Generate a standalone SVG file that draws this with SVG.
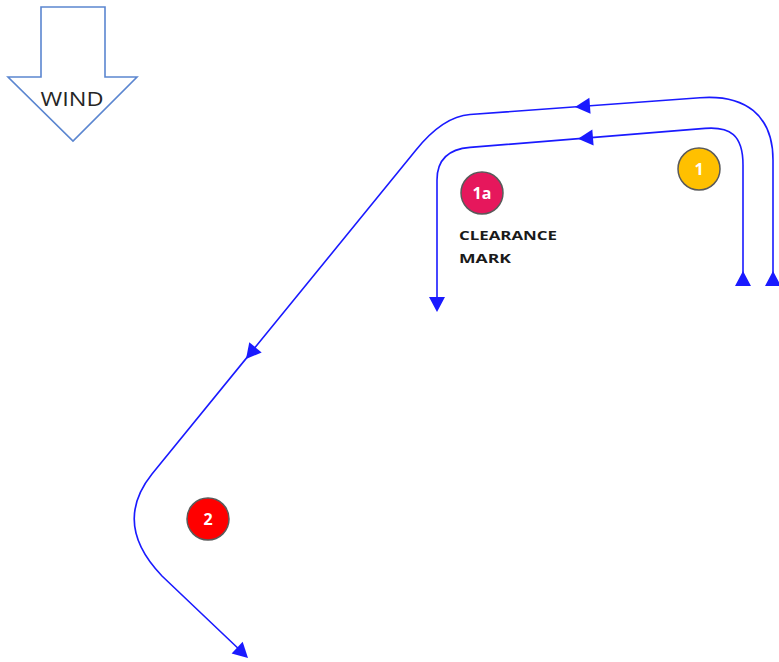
<svg xmlns="http://www.w3.org/2000/svg" width="779" height="662" viewBox="0 0 779 662">
<style>
.course{fill:none;stroke:#1a1aff;stroke-width:1.6;stroke-linejoin:round}
.ah{fill:#1a1aff}
.buoy{stroke:#5a5a5a;stroke-width:1.5}
.num{fill:#ffffff;font-family:"Open Sans","Liberation Sans",sans-serif;font-weight:700;font-size:16px;text-anchor:middle}
.lbl{fill:#1a1a1a;font-family:"Open Sans","Liberation Sans",sans-serif;font-weight:700;font-size:13px}
</style>
<defs>
<path id="ah" d="M0,0 L-15,-8 L-15,8 Z"/>
</defs>
<rect width="779" height="662" fill="#ffffff"/>
<g id="wind">
<polygon points="41,7 105,7 105,77 137,77 73,141 8,77 41,77" fill="#ffffff" stroke="#5b86d0" stroke-width="1.6"/>
<text x="72" y="106" font-family="'Open Sans','Liberation Sans',sans-serif" font-size="20" fill="#262626" text-anchor="middle" textLength="63" lengthAdjust="spacingAndGlyphs">WIND</text>
</g>
<g id="connectors">
<path class="course" d="M773,286 L773,160 C773,115 745,94.4 700,97.7 L470,114.5 Q443,116.5 416,150 L152,474 Q112,524 162,576 L243,653"/>
<path class="course" d="M743,286 L743,165 C743,135 730,126.4 705,128.4 L470,147.4 Q437,150 437,180 L437,305"/>
<use href="#ah" class="ah" transform="translate(773,271) rotate(-90)"/>
<use href="#ah" class="ah" transform="translate(743,271) rotate(-90)"/>
<use href="#ah" class="ah" transform="translate(575,106.9) rotate(175.8)"/>
<use href="#ah" class="ah" transform="translate(578,138.7) rotate(175.4)"/>
<use href="#ah" class="ah" transform="translate(246,359) rotate(129.2)"/>
<use href="#ah" class="ah" transform="translate(248,658) rotate(43.6)"/>
<use href="#ah" class="ah" transform="translate(437,312) rotate(90)"/>
</g>
<g id="mark1">
<circle class="buoy" cx="699" cy="169" r="21" fill="#ffc000"/>
<text class="num" x="699" y="175">1</text>
</g>
<g id="mark1a">
<circle class="buoy" cx="482" cy="193" r="21" fill="#e6175c"/>
<text class="num" x="482" y="199">1a</text>
<text class="lbl" x="459" y="240" textLength="98" lengthAdjust="spacingAndGlyphs">CLEARANCE</text>
<text class="lbl" x="459" y="263" textLength="52" lengthAdjust="spacingAndGlyphs">MARK</text>
</g>
<g id="mark2">
<circle class="buoy" cx="208" cy="519" r="21" fill="#ff0000"/>
<text class="num" x="208" y="525">2</text>
</g>
</svg>
